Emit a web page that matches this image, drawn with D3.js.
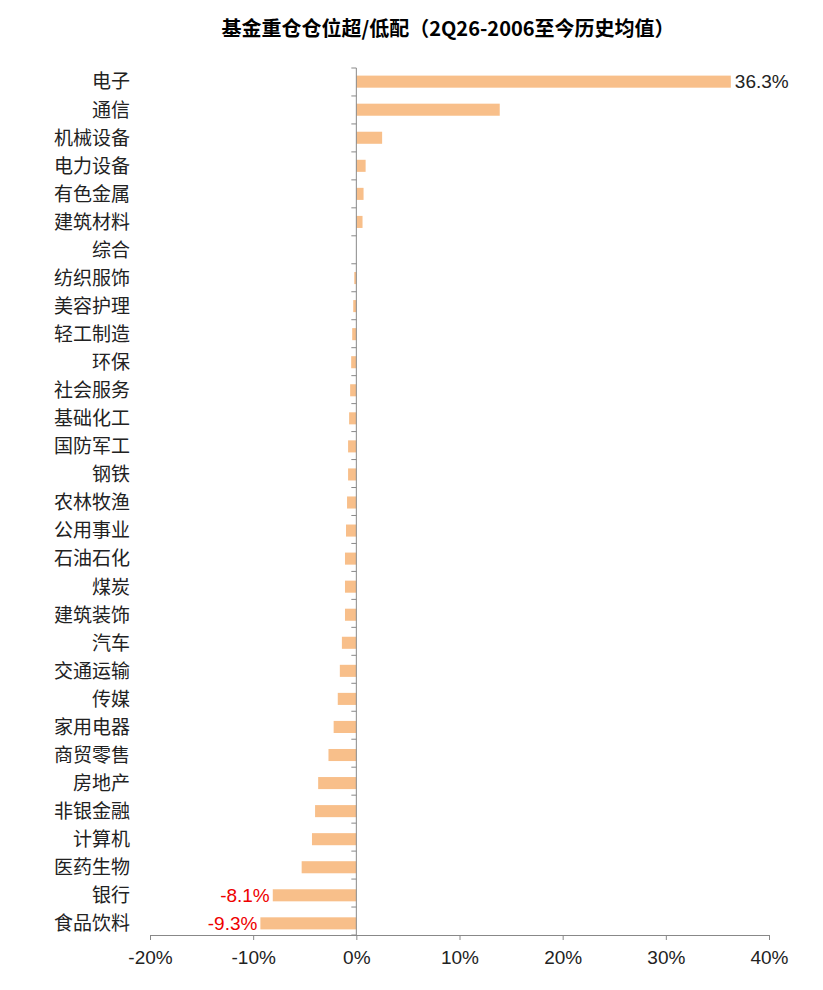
<!DOCTYPE html>
<html><head><meta charset="utf-8">
<script src="https://cdn.jsdelivr.net/npm/d3@7"></script>
<style>body{margin:0;background:#fff}</style>
</head><body>
<svg id="chart" width="823" height="990"></svg>
<script>
// data
const categories = ['电子','通信','机械设备','电力设备','有色金属','建筑材料','综合','纺织服饰','美容护理','轻工制造','环保','社会服务','基础化工','国防军工','钢铁','农林牧渔','公用事业','石油石化','煤炭','建筑装饰','汽车','交通运输','传媒','家用电器','商贸零售','房地产','非银金融','计算机','医药生物','银行','食品饮料'];
const values = [36.3,13.9,2.5,0.9,0.7,0.6,0,-0.2,-0.3,-0.4,-0.5,-0.6,-0.7,-0.8,-0.8,-0.9,-1.0,-1.1,-1.1,-1.1,-1.4,-1.6,-1.8,-2.2,-2.7,-3.7,-4.0,-4.3,-5.3,-8.1,-9.3];
const tickValues = [-20,-10,0,10,20,30,40];
const labelled = {'电子':'#222','银行':'#e00','食品饮料':'#e00'};

const svg = d3.select('#chart');
const font = '"Noto Sans CJK SC", "Liberation Sans", sans-serif';

const x = d3.scaleLinear().domain([-20,40]).range([150,769]);
const y = d3.scaleBand().domain(categories).range([70,935]).paddingInner(0.57).paddingOuter(0.2);

svg.append('text').attr('x',448).attr('y',36).attr('text-anchor','middle')
  .attr('font-family',font).attr('font-weight','bold').attr('font-size',20)
  .text('基金重仓仓位超/低配（2Q26-2006至今历史均值）');

svg.selectAll('rect.bar').data(categories).join('rect').attr('class','bar')
  .attr('x',(d,i)=>x(Math.min(0,values[i])))
  .attr('width',(d,i)=>Math.abs(x(values[i])-x(0)))
  .attr('y',d=>y(d)).attr('height',y.bandwidth())
  .attr('fill','#f8bf8a');

// bottom axis
const xAxis = svg.append('g').attr('transform','translate(0,935)')
  .call(d3.axisBottom(x).tickValues(tickValues).tickFormat(d=>d+'%').tickSizeOuter(0).tickSize(5));
xAxis.selectAll('line,path').attr('stroke','#888');
xAxis.selectAll('text').attr('font-family','"Liberation Sans", Arial, sans-serif').attr('font-size',19).attr('fill','#222').attr('dy','1.1em');

// vertical axis at zero
svg.append('line').attr('x1',x(0)).attr('x2',x(0)).attr('y1',68).attr('y2',935).attr('stroke','#888');
svg.selectAll('line.tk').data(d3.range(categories.length+1)).join('line').attr('class','tk')
  .attr('x1',x(0)-5).attr('x2',x(0)).attr('y1',i=>68+i*(867/categories.length)).attr('y2',i=>68+i*(867/categories.length)).attr('stroke','#888');

// category labels
svg.selectAll('text.cat').data(categories).join('text').attr('class','cat')
  .attr('x',130).attr('y',d=>y(d)+y.bandwidth()/2).attr('dy','0.36em')
  .attr('text-anchor','end').attr('font-family',font).attr('font-size',19).attr('fill','#222')
  .text(d=>d);

// value labels
categories.forEach((c,i)=>{
  if(!labelled[c]) return;
  const v = values[i];
  svg.append('text')
    .attr('x', v>0 ? x(v)+4 : x(v)-3)
    .attr('y', y(c)+y.bandwidth()/2).attr('dy','0.36em')
    .attr('text-anchor', v>0 ? 'start' : 'end')
    .attr('font-family','"Liberation Sans", Arial, sans-serif').attr('font-size',19)
    .attr('fill',labelled[c]).text(v.toFixed(1)+'%');
});
</script>
</body></html>
